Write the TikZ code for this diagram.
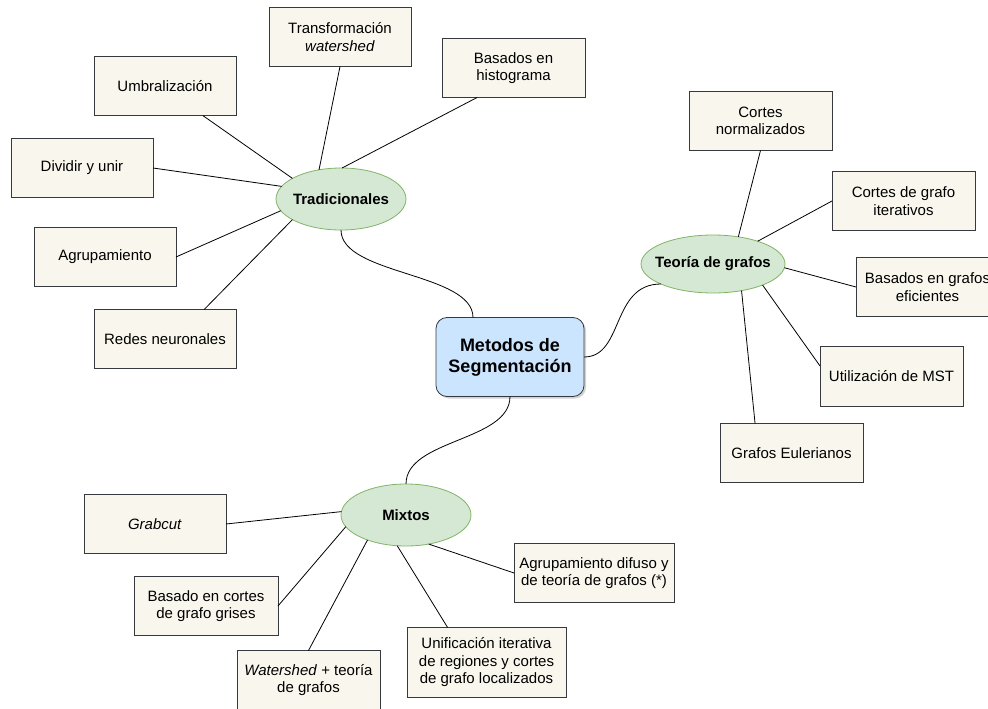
\documentclass[tikz,border=0pt]{standalone}
\usepackage{fontspec}
\setmainfont{Liberation Sans}
\usetikzlibrary{shapes.geometric,shadows}
\definecolor{boxfill}{HTML}{F9F7ED}
\definecolor{boxline}{HTML}{36393D}
\definecolor{ellfill}{HTML}{D5E8D4}
\definecolor{ellline}{HTML}{82B366}
\definecolor{mainfill}{HTML}{CCE5FF}
\newcommand{\hubtext}[1]{\makebox[0pt][c]{#1}}
\tikzset{
  leaf/.style={draw=boxline, fill=boxfill, line width=0.8pt, rectangle, outer sep=0pt, inner sep=2pt,
    minimum width=142pt, minimum height=59pt, align=center, font=\fontsize{15}{17.5}\selectfont},
  hub/.style={draw=ellline, fill=ellfill, line width=0.8pt, ellipse, outer sep=0pt, inner sep=0pt,
    minimum width=130pt, minimum height=62pt, align=center, font=\fontsize{15}{17.5}\selectfont\bfseries},
  root/.style={draw=boxline, fill=mainfill, line width=0.8pt, rectangle, rounded corners=11pt, outer sep=0pt,
    minimum width=148pt, minimum height=79pt, align=center, font=\fontsize{18}{21}\selectfont\bfseries,
    drop shadow={shadow xshift=2pt, shadow yshift=-2pt, opacity=0.35}},
  link/.style={draw=black, line width=0.8pt}
}
\begin{document}
\begin{tikzpicture}[x=1pt,y=-1pt]
\useasboundingbox (0,0) rectangle (988,709);
% root
\node[root] (main) at (510,357) {Metodos de\\Segmentación};
% hubs
\node[hub] (trad) at (341,199) {\hubtext{Tradicionales}};
\node[hub, minimum width=144pt, minimum height=58pt] (teo) at (713,264) {\hubtext{Teoría de grafos}};
\node[hub] (mix) at (406,515) {\hubtext{Mixtos}};
% Tradicionales leaves
\node[leaf] (trans) at (340,37) {Transformación\\\textit{watershed}};
\node[leaf, minimum width=143pt] (hist) at (513.5,68) {Basados en\\histograma};
\node[leaf] (umbr) at (165,86) {Umbralización};
\node[leaf] (divid) at (82,168) {Dividir y unir};
\node[leaf] (agrup) at (105,257) {Agrupamiento};
\node[leaf] (redes) at (165,339) {Redes neuronales};
% Teoria leaves
\node[leaf, minimum width=143pt] (cnorm) at (760.5,121) {Cortes\\normalizados};
\node[leaf, minimum width=143pt] (citer) at (903.5,201) {Cortes de grafo\\iterativos};
\node[leaf, minimum width=143pt] (bef) at (927.5,287) {Basados en grafos\\eficientes};
\node[leaf, minimum width=143pt, minimum height=60pt] (mst) at (891.5,376) {Utilización de MST};
\node[leaf, minimum width=143pt] (euler) at (791.5,453) {Grafos Eulerianos};
% Mixtos leaves
\node[leaf] (grab) at (155,524) {\textit{Grabcut}};
\node[leaf, minimum width=144pt] (grises) at (206,606) {Basado en cortes\\de grafo grises};
\node[leaf, minimum width=143pt] (wshed) at (308.5,680) {\textit{Watershed} + teoría\\de grafos};
\node[leaf, minimum width=160pt] (difuso) at (594,573) {Agrupamiento difuso y\\de teoría de grafos (*)};
\node[leaf, minimum width=159pt, minimum height=70pt] (unif) at (486.5,662.5) {Unificación iterativa\\de regiones y cortes\\de grafo localizados};
% curved connectors
\draw[link] (trad.south) .. controls +(0,45) and +(0,-45) .. ([xshift=-37pt]main.north);
\draw[link] (teo.201.8) .. controls +(-50,0) and +(40,0) .. (main.east);
\draw[link] (main.south) .. controls +(0,45) and +(0,-45) .. (mix.north);
% Tradicionales connectors
\draw[link] (trad.127) -- (trans.south);
\draw[link] (trad.88) -- (hist.219.7);
\draw[link] (trad.157.6) -- (umbr.322.2);
\draw[link] (trad.168.5) -- (divid.east);
\draw[link] (trad.191) -- (agrup.east);
\draw[link] (trad.203.6) -- (redes.37.8);
% Teoria connectors
\draw[link] (teo.47) -- (cnorm.south);
\draw[link] (teo.27) -- (citer.west);
\draw[link] (teo.-3.3) -- (bef.west);
\draw[link] (teo.-23.9) -- (mst.172.8);
\draw[link] (teo.-43) -- (euler.141);
% Mixtos connectors
\draw[link] (mix.177) -- (grab.east);
\draw[link] (mix.191.7) -- (grises.east);
\draw[link] (mix.213) -- (wshed.north);
\draw[link] (mix.254) -- (unif.138.5);
\draw[link] (mix.-52) -- (difuso.west);
\end{tikzpicture}
\end{document}
